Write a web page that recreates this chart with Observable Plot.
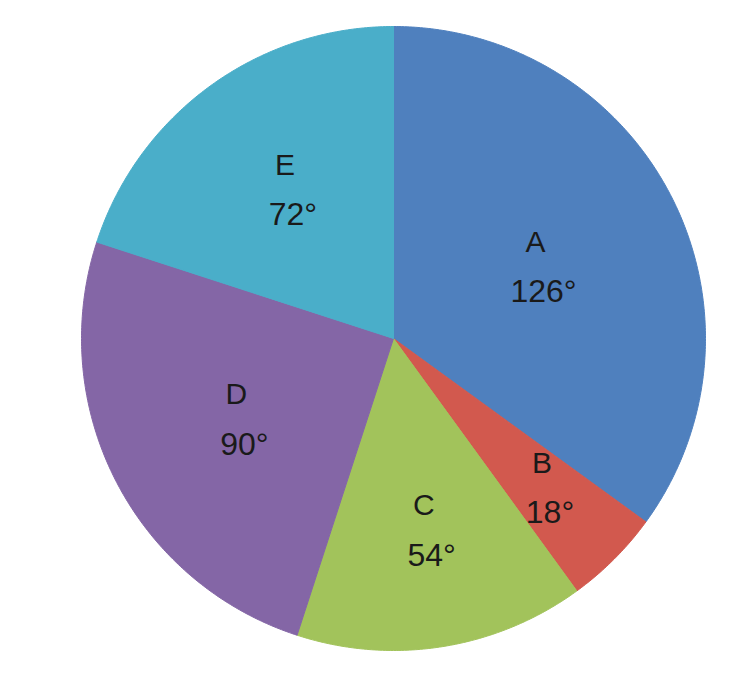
<!DOCTYPE html>
<html>
<head>
<meta charset="utf-8">
<script src="https://cdn.jsdelivr.net/npm/d3@7"></script>
<script src="https://cdn.jsdelivr.net/npm/@observablehq/plot@0.6"></script>
<style>
  html, body { margin: 0; padding: 0; background: #ffffff; }
  #chart svg { display: block; }
</style>
</head>
<body>
<div id="chart"></div>
<script>
// Data (degrees of each sector)
const categories = ["A", "B", "C", "D", "E"];
const degrees = [126, 18, 54, 90, 72];
const palette = ["#4F80BE", "#D2594E", "#A2C35B", "#8466A6", "#4AAEC9"];

// Build sector polygons (unit circle, clockwise from 12 o'clock)
const sectors = [];
const labels = [];
let start = 0;
categories.forEach((name, i) => {
  const end = start + degrees[i];
  sectors.push({name, x: 0, y: 0});
  for (let a = start; a <= end; a += 0.5) {
    const t = a * Math.PI / 180;
    sectors.push({name, x: Math.sin(t), y: Math.cos(t)});
  }
  sectors.push({name, x: 0, y: 0});
  const mid = (start + end) / 2 * Math.PI / 180;
  const r = 0.7 - 0.0015 * degrees[i]; // push labels of narrow sectors outward
  labels.push({name, value: degrees[i] + "°", x: r * Math.sin(mid), y: r * Math.cos(mid)});
  start = end;
});

const chart = Plot.plot({
  width: 748,
  height: 688,
  marginLeft: 81,
  marginRight: 43,
  marginTop: 26,
  marginBottom: 38,
  x: {domain: [-1, 1], axis: null},
  y: {domain: [-1, 1], axis: null},
  color: {domain: categories, range: palette},
  style: {fontFamily: "'Liberation Sans', Arial, sans-serif", background: "#ffffff"},
  marks: [
    Plot.line(sectors, {x: "x", y: "y", z: "name", fill: "name", stroke: "name", strokeWidth: 1, curve: "linear"}),
    Plot.text(labels, {x: "x", y: "y", text: "name", dy: -24, fontSize: 30, fill: "#1a1a1a"}),
    Plot.text(labels, {x: "x", y: "y", text: "value", dx: 8, dy: 26, fontSize: 32, fill: "#1a1a1a"})
  ]
});
document.getElementById("chart").appendChild(chart);
</script>
</body>
</html>
